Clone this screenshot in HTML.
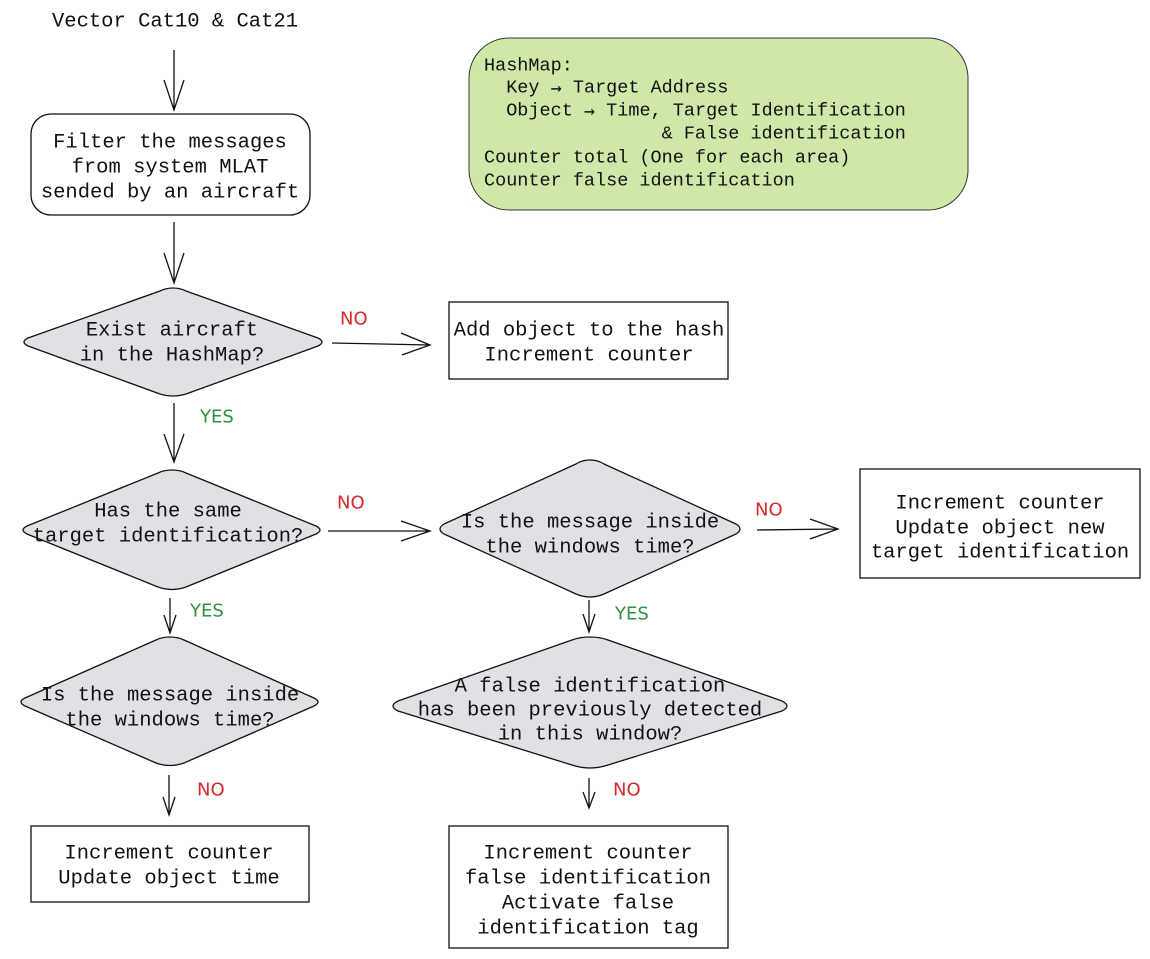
<!DOCTYPE html>
<html><head><meta charset="utf-8"><style>
html,body{margin:0;padding:0;background:#fff;}
svg{display:block;}
.t{font-family:"Liberation Mono","DejaVu Sans Mono",monospace;font-size:20.5px;fill:#111;text-anchor:middle;dominant-baseline:central;}
.h{font-family:"Liberation Mono","DejaVu Sans Mono",monospace;font-size:18.5px;fill:#111;dominant-baseline:central;white-space:pre;}
.a{font-family:"DejaVu Sans Mono",monospace;}
.no{font-family:"DejaVu Sans",sans-serif;font-size:18px;fill:#d42a2a;dominant-baseline:central;}
.yes{font-family:"DejaVu Sans",sans-serif;font-size:18px;fill:#2e9040;dominant-baseline:central;}
.s{stroke:#111;stroke-width:1.3;fill:none;}
.d{fill:#dfe1e5;stroke:#111;stroke-width:1.3;stroke-linejoin:round;}
.b{fill:#fff;stroke:#111;stroke-width:1.3;}
</style></head><body>
<svg width="1150" height="959" viewBox="0 0 1150 959">
<g transform="translate(0,2)">
<text class="t" x="175" y="20">Vector Cat10 &amp; Cat21</text>
</g>
<g class="s">
<path d="M174 50V110M164 80L174 110L184 80"/>
<path d="M174 222V283M164 253L174 283L184 253"/>
<path d="M332 343L430 345M401 333L430 345L402 355"/>
<path d="M174 403V462M164 434L174 462L184 434"/>
<path d="M328 531H430M401 521L430 531L401 541"/>
<path d="M757 530L838 529M810 519L838 529L810 539"/>
<path d="M589 600V632M583 614L589 632L595 614"/>
<path d="M589 778V808M583 792L589 808L595 792"/>
<path d="M170 598V633M164 615L170 633L176 615"/>
<path d="M169 775V815M163 797L169 815L175 797"/>
</g>
<rect x="469" y="38" width="499" height="172" rx="40" fill="#cfe8a9" stroke="#333" stroke-width="1"/>
<g transform="translate(0,1)">
<text class="h" x="484" y="65">HashMap:</text>
<text class="h" x="484" y="87">  Key <tspan class="a">→</tspan> Target Address</text>
<text class="h" x="484" y="110">  Object <tspan class="a">→</tspan> Time, Target Identification</text>
<text class="h" x="484" y="133">                &amp; False identification</text>
<text class="h" x="484" y="157">Counter total (One for each area)</text>
<text class="h" x="484" y="180">Counter false identification</text>
</g>

<g transform="translate(0,2)">
<rect class="b" x="31" y="112" width="279" height="101" rx="20"/>
<text class="t" x="170" y="141">Filter the messages</text>
<text class="t" x="170" y="166">from system MLAT</text>
<text class="t" x="170" y="191">sended by an aircraft</text>
</g>

<path class="d" d="M173 288 Q180 288 186 291 L318 338 Q326 342 318 346 L186 394 Q173 398 160 394 L28 346 Q20 342 28 338 L160 291 Q166 288 173 288Z"/>
<g transform="translate(0,2)">
<text class="t" x="172" y="329">Exist aircraft</text>
<text class="t" x="172" y="354">in the HashMap?</text>
</g>
<text class="no" x="340" y="319">NO</text>

<rect class="b" x="449" y="302" width="279" height="77"/>
<g transform="translate(0,2)">
<text class="t" x="589" y="329">Add object to the hash</text>
<text class="t" x="589" y="354">Increment counter</text>
</g>

<text class="yes" x="200" y="417">YES</text>

<path class="d" d="M172 470 Q180 470 186 473 L316 526 Q324 530 316 534 L186 587 Q172 592 158 587 L27 534 Q19 530 27 526 L158 473 Q164 470 172 470Z"/>
<g transform="translate(0,2)">
<text class="t" x="168" y="510">Has the same</text>
<text class="t" x="168" y="535">target identification?</text>
</g>
<text class="no" x="337" y="503">NO</text>

<path class="d" d="M590 460 Q598 460 604 464 L736 524 Q744 529 736 534 L604 594 Q590 600 576 594 L444 534 Q436 529 444 524 L576 464 Q582 460 590 460Z"/>
<g transform="translate(0,2)">
<text class="t" x="590" y="521">Is the message inside</text>
<text class="t" x="590" y="546">the windows time?</text>
</g>
<text class="no" x="755" y="510">NO</text>

<rect class="b" x="860" y="469" width="280" height="109"/>
<g transform="translate(0,2)">
<text class="t" x="1000" y="502">Increment counter</text>
<text class="t" x="1000" y="527">Update object new</text>
<text class="t" x="1000" y="551">target identification</text>
</g>

<text class="yes" x="615" y="614">YES</text>

<path class="d" d="M590 637 Q600 637 608 640 L782 701 Q792 706 782 711 L608 765 Q590 771 572 765 L398 711 Q388 706 398 701 L572 640 Q580 637 590 637Z"/>
<g transform="translate(0,2)">
<text class="t" x="590" y="685">A false identification</text>
<text class="t" x="590" y="709">has been previously detected</text>
<text class="t" x="590" y="733">in this window?</text>
</g>
<text class="no" x="613" y="790">NO</text>

<rect class="b" x="449" y="826" width="279" height="122"/>
<g transform="translate(0,2)">
<text class="t" x="588" y="852">Increment counter</text>
<text class="t" x="588" y="877">false identification</text>
<text class="t" x="588" y="902">Activate false</text>
<text class="t" x="588" y="927">identification tag</text>
</g>

<text class="yes" x="190" y="611">YES</text>

<path class="d" d="M170 637 Q178 637 184 640 L314 698 Q322 702 314 706 L184 763 Q170 768 156 763 L25 706 Q17 702 25 698 L156 640 Q162 637 170 637Z"/>
<g transform="translate(0,2)">
<text class="t" x="170" y="694">Is the message inside</text>
<text class="t" x="170" y="719">the windows time?</text>
</g>
<text class="no" x="197" y="790">NO</text>

<rect class="b" x="31" y="826" width="278" height="76"/>
<g transform="translate(0,2)">
<text class="t" x="169" y="852">Increment counter</text>
<text class="t" x="169" y="877">Update object time</text>
</g>
</svg>
</body></html>
